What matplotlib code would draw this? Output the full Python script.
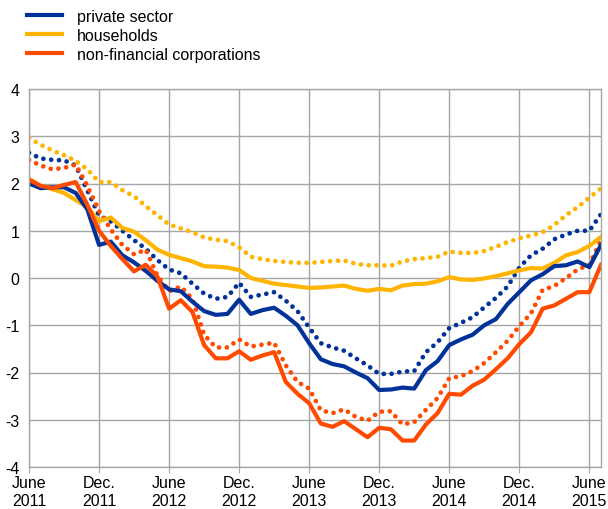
"""Loan growth chart: private sector, households, non-financial corporations."""

import matplotlib
matplotlib.use("Agg")
import matplotlib.pyplot as plt  # noqa: E402
import numpy as np  # noqa: E402

plt.rcParams["font.family"] = ["Liberation Sans", "DejaVu Sans"]
plt.rcParams["axes.unicode_minus"] = False

# monthly observations, June 2011 .. July 2015
N_MONTHS = 50
TICK_LABELS = ["June\n2011", "Dec.\n2011", "June\n2012", "Dec.\n2012", "June\n2013",
               "Dec.\n2013", "June\n2014", "Dec.\n2014", "June\n2015"]

private_solid = [2.0, 1.9, 1.92, 1.92, 1.8, 1.45, 0.7, 0.77, 0.48, 0.33,
                 0.15, -0.06, -0.24, -0.28, -0.5, -0.7, -0.78, -0.76, -0.46, -0.76,
                 -0.68, -0.63, -0.8, -1.0, -1.38, -1.72, -1.82, -1.87, -2.0, -2.12,
                 -2.37, -2.36, -2.32, -2.34, -1.95, -1.76, -1.42, -1.3, -1.2, -1.0,
                 -0.87, -0.55, -0.3, -0.05, 0.08, 0.25, 0.27, 0.35, 0.23, 0.7]
private_dotted = [2.65, 2.53, 2.5, 2.49, 2.38, 1.85, 1.32, 1.2, 1.0, 0.8,
                  0.62, 0.38, 0.18, 0.1, -0.12, -0.33, -0.44, -0.4, -0.1, -0.4,
                  -0.35, -0.3, -0.48, -0.7, -1.05, -1.38, -1.47, -1.54, -1.7, -1.85,
                  -2.03, -2.03, -1.98, -1.97, -1.57, -1.36, -1.06, -0.95, -0.83, -0.62,
                  -0.42, -0.18, 0.22, 0.48, 0.62, 0.82, 0.92, 1.0, 1.0, 1.35]
households_solid = [2.1, 1.95, 1.88, 1.8, 1.65, 1.5, 1.2, 1.28, 1.06, 0.98,
                    0.8, 0.6, 0.49, 0.42, 0.35, 0.25, 0.24, 0.22, 0.17, 0.0,
                    -0.06, -0.12, -0.15, -0.18, -0.21, -0.2, -0.18, -0.16, -0.23, -0.27,
                    -0.23, -0.26, -0.16, -0.13, -0.12, -0.07, 0.02, -0.03, -0.04, -0.01,
                    0.04, 0.1, 0.16, 0.21, 0.2, 0.32, 0.48, 0.55, 0.68, 0.87]
households_dotted = [2.97, 2.82, 2.7, 2.6, 2.48, 2.3, 2.03, 2.03, 1.86, 1.73,
                     1.52, 1.33, 1.13, 1.05, 0.97, 0.86, 0.81, 0.78, 0.65, 0.45,
                     0.4, 0.36, 0.34, 0.32, 0.32, 0.34, 0.36, 0.37, 0.3, 0.27,
                     0.27, 0.26, 0.35, 0.4, 0.42, 0.45, 0.56, 0.53, 0.53, 0.57,
                     0.66, 0.76, 0.84, 0.9, 0.97, 1.12, 1.33, 1.5, 1.7, 1.9]
nfc_solid = [2.08, 1.95, 1.9, 1.97, 2.03, 1.55, 1.0, 0.68, 0.4, 0.14,
             0.28, 0.03, -0.65, -0.47, -0.72, -1.42, -1.7, -1.7, -1.55, -1.73,
             -1.64, -1.57, -2.2, -2.45, -2.65, -3.08, -3.15, -3.03, -3.2, -3.37,
             -3.17, -3.2, -3.44, -3.44, -3.1, -2.86, -2.45, -2.47, -2.28, -2.15,
             -1.93, -1.7, -1.4, -1.15, -0.65, -0.58, -0.44, -0.3, -0.3, 0.28]
nfc_dotted = [2.5, 2.38, 2.3, 2.33, 2.4, 1.95, 1.42, 1.03, 0.7, 0.5,
              0.6, 0.05, -0.28, -0.18, -0.44, -1.2, -1.47, -1.47, -1.3, -1.45,
              -1.41, -1.37, -1.85, -2.2, -2.34, -2.8, -2.86, -2.78, -2.94, -3.02,
              -2.83, -2.82, -3.1, -3.05, -2.79, -2.54, -2.12, -2.08, -1.97, -1.8,
              -1.57, -1.33, -1.02, -0.75, -0.25, -0.17, 0.0, 0.18, 0.28, 0.8]

BLUE = "#003299"
YELLOW = "#FFB400"
RED = "#FF4B00"
GRID = "#a6a6a6"

x = np.arange(N_MONTHS)

fig = plt.figure(figsize=(6.08, 5.10), dpi=100)
ax = fig.add_axes([29 / 608, 1 - 468 / 510, 572 / 608, 378 / 510])

dot_kw = dict(linewidth=3.4, linestyle=(0, (0.01, 1.65)), dash_capstyle="round")
ax.plot(x, households_dotted, color=YELLOW, **dot_kw)
ax.plot(x, private_dotted, color=BLUE, **dot_kw)
ax.plot(x, nfc_dotted, color=RED, **dot_kw)

ax.plot(x, households_solid, color=YELLOW, linewidth=3.0, label="households")
ax.plot(x, private_solid, color=BLUE, linewidth=3.0, label="private sector")
ax.plot(x, nfc_solid, color=RED, linewidth=3.0, label="non-financial corporations")

ax.set_xlim(0, N_MONTHS - 1)
ax.set_ylim(-4, 4)
ax.set_xticks(np.arange(0, N_MONTHS, 6))
ax.set_xticklabels(TICK_LABELS, fontsize=11.5, linespacing=1.2)
ax.set_yticks(np.arange(-4, 5, 1))
ax.tick_params(axis="y", length=0, pad=7, labelsize=11.5)
ax.tick_params(axis="x", length=4, color=GRID, pad=2)
ax.grid(True, color=GRID, linewidth=1.0)
ax.set_axisbelow(True)
for s in ax.spines.values():
    s.set_color(GRID)
    s.set_linewidth(1.0)

handles, labels = ax.get_legend_handles_labels()
order = [1, 0, 2]
fig.legend([handles[i] for i in order], [labels[i] for i in order],
           loc="upper left", bbox_to_anchor=(27 / 608, 1 - 10 / 510),
           frameon=False, fontsize=11.5, handlelength=2.2, handletextpad=0.95,
           labelspacing=0.25, borderpad=0, borderaxespad=0)

fig.savefig("out.png", dpi=100)
